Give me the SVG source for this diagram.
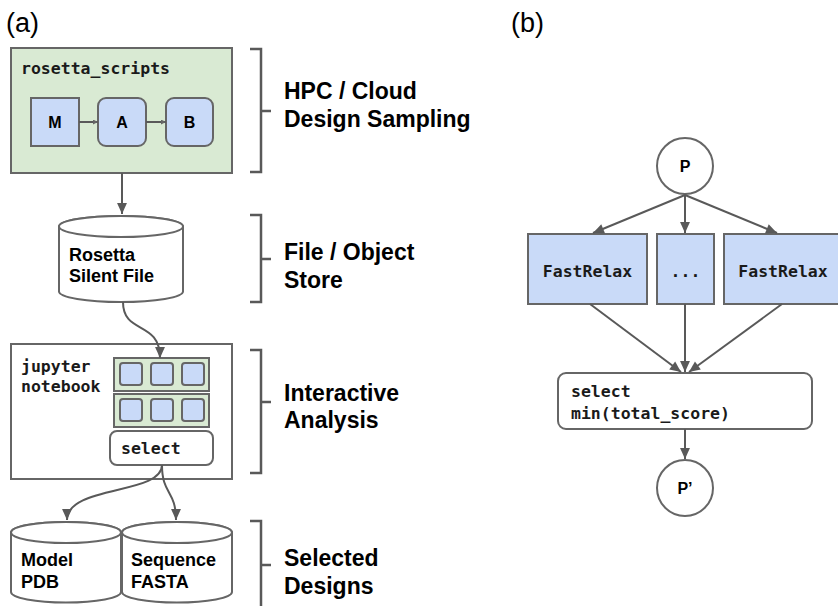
<svg xmlns="http://www.w3.org/2000/svg" width="838" height="606" viewBox="0 0 838 606">
<style>
.sans{font-family:"Liberation Sans",Arial,sans-serif;font-weight:bold;fill:#000}
.lbl{font-size:18px}
.big{font-size:23px}
.mono{font-family:"DejaVu Sans Mono","Liberation Mono",monospace;font-weight:bold;font-size:16.5px;fill:#1a1a1a}
.panel{font-family:"Liberation Sans",Arial,sans-serif;font-size:27px;fill:#000}
.box{stroke:#666;stroke-width:2}
.green{fill:#d9ead3}
.blue{fill:#c9daf8}
.white{fill:#fff}
.conn{fill:none;stroke:#595959;stroke-width:2}
.brk{fill:none;stroke:#595959;stroke-width:2.5}
</style>
<defs>
<marker id="arr" viewBox="0 0 10 10" refX="10" refY="5" markerWidth="12" markerHeight="11" markerUnits="userSpaceOnUse" orient="auto">
<path d="M0,0.5 L10,5 L0,9.5 z" fill="#595959"/>
</marker>
<marker id="arrs" viewBox="0 0 10 10" refX="10" refY="5" markerWidth="6" markerHeight="5" markerUnits="userSpaceOnUse" orient="auto">
<path d="M0,0 L10,5 L0,10 z" fill="#666"/>
</marker>
</defs>

<text class="panel" x="6" y="32">(a)</text>
<text class="panel" x="511" y="32">(b)</text>

<g id="rosetta_scripts">
<rect class="box green" x="11" y="48" width="221" height="125"/>
<text class="mono" x="21" y="74">rosetta_scripts</text>
</g>
<g id="node_M">
<rect class="box blue" x="31" y="98" width="48" height="48"/>
<text class="sans" x="55" y="128" font-size="16" text-anchor="middle">M</text>
</g>
<g id="node_A">
<rect class="box blue" x="98" y="98" width="48" height="48" rx="8"/>
<text class="sans" x="122" y="128" font-size="16" text-anchor="middle">A</text>
</g>
<g id="node_B">
<rect class="box blue" x="166" y="98" width="47" height="48" rx="8"/>
<text class="sans" x="189.5" y="128" font-size="16" text-anchor="middle">B</text>
</g>

<g id="silent_file">
<path class="box white" d="M59,226.5 V291.5 A62,10.5 0 0 0 183,291.5 V226.5 A62,10.5 0 0 0 59,226.5 Z"/>
<ellipse class="box white" cx="121" cy="226.5" rx="62" ry="10.5"/>
<text class="sans lbl" x="69" y="261">Rosetta</text>
<text class="sans lbl" x="69" y="282">Silent File</text>
</g>

<g id="jupyter">
<rect class="box white" x="11" y="344" width="221" height="135"/>
<text class="mono" x="21" y="372">jupyter</text>
<text class="mono" x="21" y="392">notebook</text>
<rect class="box green" x="114" y="358" width="95" height="33"/>
<rect class="box green" x="114" y="394" width="95" height="33"/>
<rect class="box blue" x="120" y="363" width="22" height="22" rx="3"/>
<rect class="box blue" x="151" y="363" width="22" height="22" rx="3"/>
<rect class="box blue" x="182" y="363" width="22" height="22" rx="3"/>
<rect class="box blue" x="120" y="399" width="22" height="22" rx="3"/>
<rect class="box blue" x="151" y="399" width="22" height="22" rx="3"/>
<rect class="box blue" x="182" y="399" width="22" height="22" rx="3"/>
</g>
<g id="select_a">
<rect class="box white" x="110" y="431" width="103" height="34" rx="7"/>
<text class="mono" x="121" y="454">select</text>
</g>

<g id="model_pdb">
<path class="box white" d="M11,532.5 V592 A55,10.5 0 0 0 121,592 V532.5 A55,10.5 0 0 0 11,532.5 Z"/>
<ellipse class="box white" cx="66" cy="532.5" rx="55" ry="10.5"/>
<text class="sans lbl" x="21" y="566">Model</text>
<text class="sans lbl" x="21" y="588">PDB</text>
</g>
<g id="sequence_fasta">
<path class="box white" d="M122,532.5 V592 A55,10.5 0 0 0 232,592 V532.5 A55,10.5 0 0 0 122,532.5 Z"/>
<ellipse class="box white" cx="177" cy="532.5" rx="55" ry="10.5"/>
<text class="sans lbl" x="131" y="566">Sequence</text>
<text class="sans lbl" x="131" y="588">FASTA</text>
</g>

<g id="brackets">
<path class="brk" d="M250,49 H261 V172 H250 M261,111 H271"/>
<path class="brk" d="M250,215 H261 V302 H250 M261,259 H271"/>
<path class="brk" d="M250,350 H261 V473 H250 M261,402 H271"/>
<path class="brk" d="M250,521 H261 V612 M261,565 H271"/>
<text class="sans big" x="284" y="99">HPC / Cloud</text>
<text class="sans big" x="284" y="127">Design Sampling</text>
<text class="sans big" x="284" y="260">File / Object</text>
<text class="sans big" x="284" y="288">Store</text>
<text class="sans big" x="284" y="401">Interactive</text>
<text class="sans big" x="284" y="428">Analysis</text>
<text class="sans big" x="284" y="566">Selected</text>
<text class="sans big" x="284" y="594">Designs</text>
</g>

<g id="node_P">
<circle class="box white" cx="685" cy="166" r="28"/>
<text class="sans" x="685" y="172" font-size="16" text-anchor="middle">P</text>
</g>
<g id="fastrelax_1">
<rect class="box blue" x="528" y="234" width="119" height="70"/>
<text class="mono" x="587.5" y="277" text-anchor="middle">FastRelax</text>
</g>
<g id="fastrelax_dots">
<rect class="box blue" x="657" y="234" width="57" height="70"/>
<text class="mono" x="685.5" y="277" text-anchor="middle">...</text>
</g>
<g id="fastrelax_2">
<rect class="box blue" x="724" y="234" width="119" height="70"/>
<text class="mono" x="783" y="277" text-anchor="middle">FastRelax</text>
</g>
<g id="select_b">
<rect class="box white" x="558" y="373" width="254" height="56" rx="8"/>
<text class="mono" x="571" y="397">select</text>
<text class="mono" x="571" y="419">min(total_score)</text>
</g>
<g id="node_P2">
<circle class="box white" cx="685" cy="488" r="28"/>
<text class="sans" x="685" y="494" font-size="16" text-anchor="middle">P’</text>
</g>

<g id="connectors">
<line class="conn" x1="79" y1="122" x2="98" y2="122" stroke-width="1.2" marker-end="url(#arrs)"/>
<line class="conn" x1="146" y1="122" x2="166" y2="122" stroke-width="1.2" marker-end="url(#arrs)"/>
<line class="conn" x1="122" y1="173" x2="122" y2="214" marker-end="url(#arr)"/>
<path class="conn" d="M123,302 C123,335 160,320 160,358" marker-end="url(#arr)"/>
<path class="conn" d="M162,465 C162,495 67,485 67,520" marker-end="url(#arr)"/>
<path class="conn" d="M162,465 C162,495 176,490 176,520" marker-end="url(#arr)"/>
<line class="conn" x1="685" y1="195" x2="593" y2="233" marker-end="url(#arr)"/>
<line class="conn" x1="685" y1="195" x2="685" y2="233" marker-end="url(#arr)"/>
<line class="conn" x1="685" y1="195" x2="777" y2="233" marker-end="url(#arr)"/>
<line class="conn" x1="590" y1="304" x2="681" y2="372" marker-end="url(#arr)"/>
<line class="conn" x1="685" y1="304" x2="685" y2="372" marker-end="url(#arr)"/>
<line class="conn" x1="782" y1="304" x2="689" y2="372" marker-end="url(#arr)"/>
<line class="conn" x1="685" y1="429" x2="685" y2="459" marker-end="url(#arr)"/>
</g>
</svg>
